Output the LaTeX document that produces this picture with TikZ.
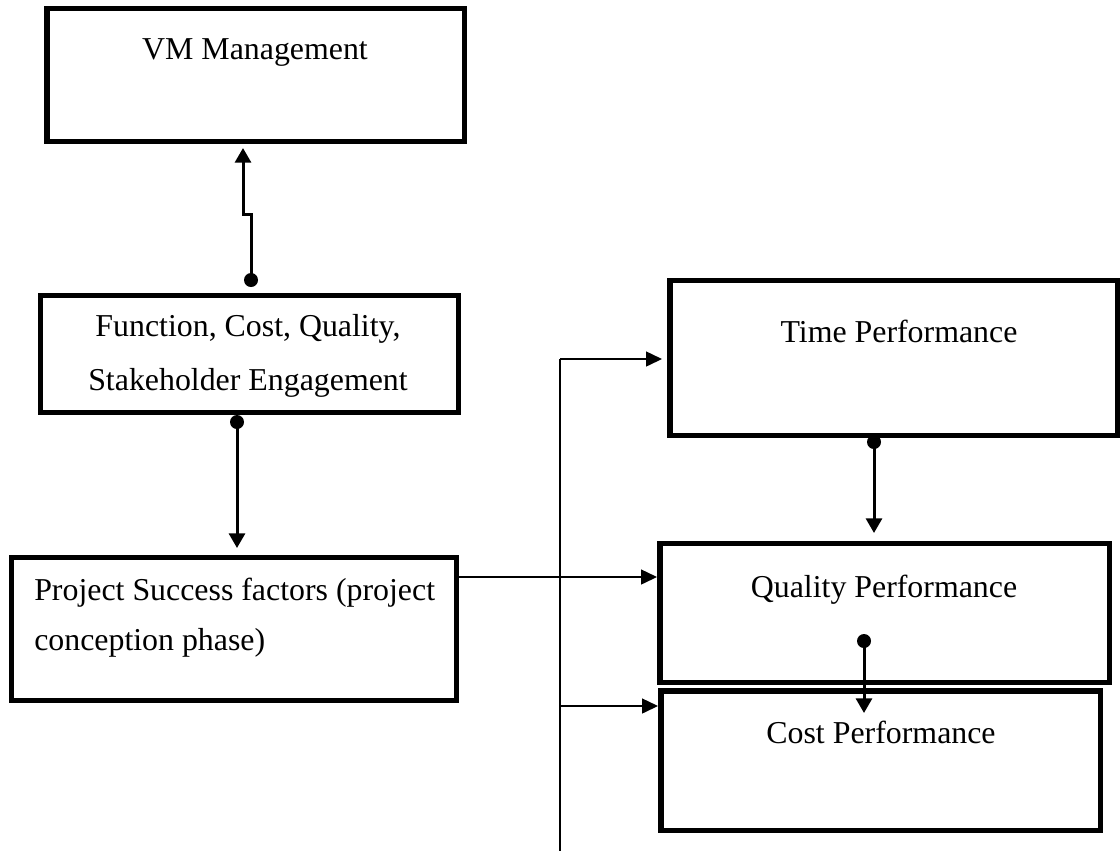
\documentclass[tikz,border=0pt]{standalone}
\usepackage{fontspec}
\setmainfont{Liberation Serif}
\usetikzlibrary{arrows.meta}
\begin{document}
\begin{tikzpicture}[x=0.75pt,y=-0.75pt,
  box/.style={draw,line width=4.1pt,rectangle,inner sep=0pt},
  txt/.style={inner sep=0pt,font=\fontsize{23.9pt}{40.5pt}\selectfont},
  thick conn/.style={line width=2.25pt,-{Triangle[length=11pt,width=12pt]}},
  thin conn/.style={line width=1.1pt},
  thin arrow/.style={line width=1.1pt,-{Triangle[length=12pt,width=11.25pt]}},
  dotmark/.style={fill=black}
]
\useasboundingbox (0,0) rectangle (1120,851);

% boxes
\node[box,minimum width=313.1pt,minimum height=99.4pt] (vm) at (255.5,75) {};
\node[box,minimum width=313.5pt,minimum height=87.4pt] (fcq) at (249.25,354) {};
\node[box,minimum width=333.4pt,minimum height=106.9pt] (psf) at (234,629) {};
\node[box,minimum width=335.6pt,minimum height=115.9pt] (time) at (893.5,358) {};
\node[box,minimum width=337.1pt,minimum height=103.9pt] (qual) at (884.5,613) {};
\node[box,minimum width=329.6pt,minimum height=104.6pt] (cost) at (880.5,760.5) {};

% texts
\node[txt,anchor=base] (vmT) at (255,59) {VM Management};
\node[txt,anchor=base,align=center] (fcqT) at (248,390) {Function, Cost, Quality,\\Stakeholder Engagement};
\node[txt,anchor=base west,align=left,font=\fontsize{23.9pt}{37.5pt}\selectfont] (psfT) at (34,650) {Project Success factors (project\\conception phase)};
\node[txt,anchor=base] (timeT) at (899,342) {Time Performance};
\node[txt,anchor=base] (qualT) at (884,597) {Quality Performance};
\node[txt,anchor=base] (costT) at (881,743) {Cost Performance};

% connector points
\coordinate (d1) at (251,280);
\coordinate (j1) at (251,214);
\coordinate (j2) at (243,214);
\coordinate (t1) at (243,148);
\coordinate (d2) at (237,422);
\coordinate (t2) at (237,548);
\coordinate (d3) at (874,442);
\coordinate (t3) at (874,533);
\coordinate (d4) at (864,641);
\coordinate (t4) at (864,713);
\coordinate (psfR) at (459,577);
\coordinate (bus) at (560,577);
\coordinate (busTop) at (560,359);
\coordinate (busBot) at (560,851);
\coordinate (busCost) at (560,706);
\coordinate (tTime) at (662,359);
\coordinate (tQual) at (657,577);
\coordinate (tCost) at (658,706);

% thick connectors with dots
\draw[thick conn] (d1) -- (j1) -- (j2) -- (t1);
\fill[dotmark] (d1) circle[radius=5.25pt];
\draw[thick conn] (d2) -- (t2);
\fill[dotmark] (d2) circle[radius=5.25pt];
\draw[thick conn] (d3) -- (t3);
\fill[dotmark] (d3) circle[radius=5.25pt];
\draw[thick conn] (d4) -- (t4);
\fill[dotmark] (d4) circle[radius=5.25pt];

% thin connectors
\draw[thin conn] (busTop) -- (busBot);
\draw[thin arrow] (psfR) -- (bus) -- (tQual);
\draw[thin arrow] (busTop) -- (tTime);
\draw[thin arrow] (busCost) -- (tCost);
\end{tikzpicture}
\end{document}
